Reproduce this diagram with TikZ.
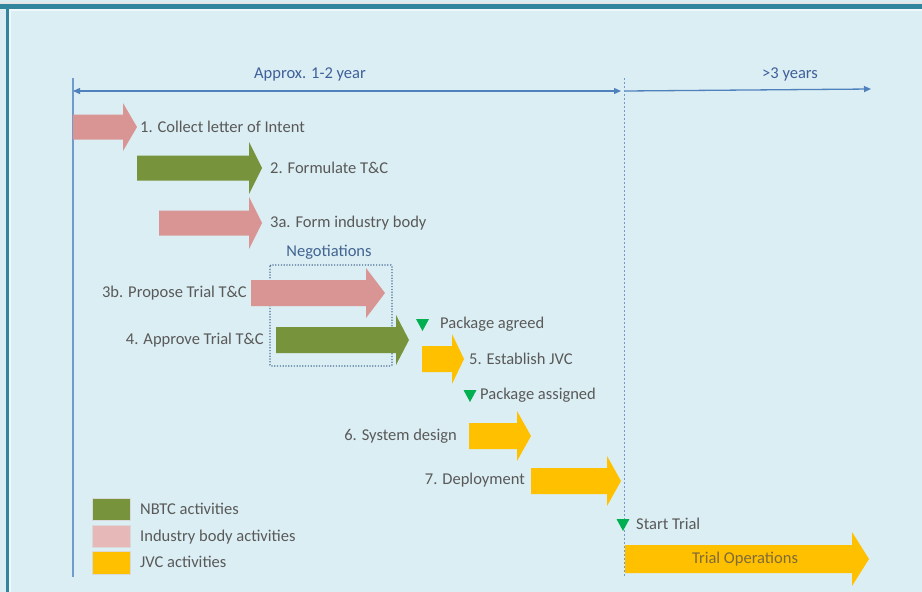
\documentclass[tikz,border=0pt]{standalone}
\usepackage{fontspec}
\setmainfont{Carlito}
\usetikzlibrary{arrows.meta}
\definecolor{bgblue}{HTML}{DBEEF3}
\definecolor{frameteal}{HTML}{31859C}
\definecolor{axisblue}{HTML}{4F81BD}
\definecolor{axistext}{HTML}{3F5F99}
\definecolor{labelgray}{HTML}{595959}
\definecolor{industry}{HTML}{D99594}
\definecolor{industrylight}{HTML}{E6B9B8}
\definecolor{nbtc}{HTML}{77933C}
\definecolor{jvc}{HTML}{FFC000}
\definecolor{milestone}{HTML}{00B050}
\definecolor{negblue}{HTML}{1F497D}
\definecolor{optext}{HTML}{7F6A3A}

% block arrow: style, left x, head base x, tip x, centre y, shaft half, head half
\newcommand\blockarr[7]{%
  \fill[#1] (#2,#5-#6) -- (#3,#5-#6) -- (#3,#5-#7) -- (#4,#5)
    -- (#3,#5+#7) -- (#3,#5+#6) -- (#2,#5+#6) -- cycle;}
% milestone marker: a small down-pointing triangle with its apex at (x,y)
\newcommand\milestone[2]{%
  \fill[milestone] (#1-6.5,#2-12) -- (#1+6.5,#2-12) -- (#1,#2) -- cycle;}

\begin{document}
\begin{tikzpicture}[x=1pt,y=-1pt,
  font=\fontsize{16.5}{19}\selectfont,
  lbl/.style={text=labelgray, inner sep=0pt},
  axislbl/.style={text=axistext, inner sep=0pt},
  axisline/.style={draw=axisblue, line width=1.3pt},
  legendbox/.style={draw=white!70!gray, line width=0.4pt}]
\useasboundingbox (0,0) rectangle (922,592);

% panel and its frame
\fill[bgblue] (0,0) rectangle (922,592);
\fill[white!80!gray] (0,2) rectangle (922,3.5);
\fill[frameteal] (0,3.5) rectangle (922,9);
\fill[frameteal] (5.5,3.5) rectangle (9,592);
\fill[white!60!bgblue] (9,9) rectangle (10.5,592);
\fill[white!60!bgblue] (9,9) rectangle (922,10.5);

% time axis
\coordinate (t0) at (73,91);
\coordinate (t1) at (621,91);
\coordinate (t2) at (625,91);
\coordinate (t3) at (871,89);
\draw[draw=axisblue!80, line width=2pt] (73,78) -- (73,577);
\draw[draw=axisblue!80, line width=1pt, dash pattern=on 2pt off 2pt] (624,78) -- (624,577);
\draw[axisline, {Triangle[length=7pt,width=6pt]}-{Triangle[length=7pt,width=6pt]}] (t0) -- (t1);
\draw[axisline, -{Triangle[length=7pt,width=6pt]}] (t2) -- (t3);
\node[axislbl] (span1) at (310,74) {Approx. 1-2 year};
\node[axislbl] (span2) at (790,74) {>3 years};

% activities
\blockarr{industry}{73}{123}{137}{127}{12.5}{24}
\node[lbl, anchor=west] (a1) at (140,127) {1. Collect letter of Intent};

\blockarr{nbtc}{137}{249}{262}{168}{12.5}{26}
\node[lbl, anchor=west] (a2) at (270,168) {2. Formulate T\&C};

\blockarr{industry}{159}{249}{262}{223}{12.5}{26}
\node[lbl, anchor=west] (a3a) at (270,223) {3a. Form industry body};

% negotiation window
\draw[negblue!80, line width=1.2pt, dash pattern=on 1.2pt off 1.6pt, rounded corners=1pt]
  (270,265) rectangle (392,366);
\node[text=negblue!85, inner sep=0pt] (neg) at (329,252) {Negotiations};

\blockarr{industry}{251}{366}{385}{293}{13}{25}
\node[lbl, anchor=east] (a3b) at (247,293) {3b. Propose Trial T\&C};

\blockarr{nbtc}{276}{396}{409}{340}{13}{25}
\node[lbl, anchor=east] (a4) at (264,340) {4. Approve Trial T\&C};

\milestone{422.5}{331}
\node[lbl, anchor=west] (m1) at (440,324) {Package agreed};

\blockarr{jvc}{422}{452}{464}{359}{13}{25}
\node[lbl, anchor=west] (a5) at (469,359) {5. Establish JVC};

\milestone{470}{402}
\node[lbl, anchor=west] (m2) at (480,395) {Package assigned};

\blockarr{jvc}{469}{517}{531}{436}{13}{25}
\node[lbl, anchor=east] (a6) at (457,436) {6. System design};

\blockarr{jvc}{531}{607}{621}{481}{13}{25}
\node[lbl, anchor=east] (a7) at (525,480) {7. Deployment};

\milestone{623}{531}
\node[lbl, anchor=west] (m3) at (636,524) {Start Trial};

\blockarr{jvc}{625}{852}{869}{559}{14}{27}
\node[text=optext, inner sep=0pt] (ops) at (745,559) {Trial Operations};

% legend
\filldraw[legendbox, fill=nbtc] (92,498) rectangle (130,520);
\node[lbl, anchor=west] (k1) at (140,509) {NBTC activities};
\filldraw[legendbox, fill=industrylight] (92,525) rectangle (130,547);
\node[lbl, anchor=west] (k2) at (140,537) {Industry body activities};
\filldraw[legendbox, fill=jvc] (92,551) rectangle (130,574);
\node[lbl, anchor=west] (k3) at (140,562) {JVC activities};
\end{tikzpicture}
\end{document}
